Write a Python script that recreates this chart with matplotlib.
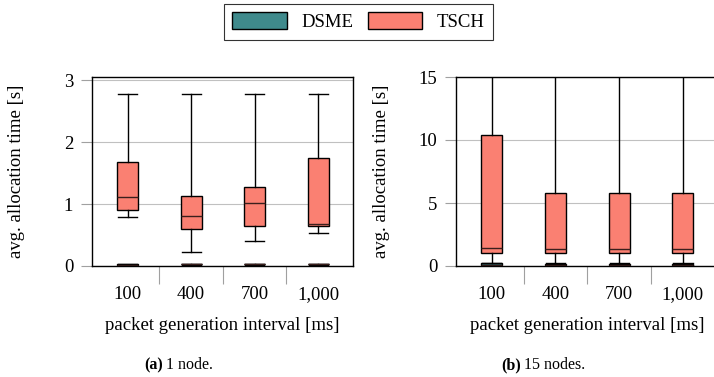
import matplotlib
matplotlib.use("Agg")
import matplotlib.pyplot as plt
from matplotlib.patches import Patch
from matplotlib.ticker import FixedLocator

plt.rcParams["font.family"] = ["Liberation Serif", "DejaVu Serif"]
plt.rcParams["font.size"] = 13.5

intervals = ["100", "400", "700", "1,000"]

# (a) 1 node -- TSCH
tsch1_low = [0.79, 0.23, 0.40, 0.54]
tsch1_q1 = [0.90, 0.60, 0.645, 0.64]
tsch1_med = [1.11, 0.80, 1.01, 0.67]
tsch1_q3 = [1.68, 1.13, 1.27, 1.75]
tsch1_high = [2.77, 2.77, 2.77, 2.77]

# (a) 1 node -- DSME
dsme1_low = [0.010, 0.020, 0.020, 0.020]
dsme1_q1 = [0.015, 0.025, 0.025, 0.025]
dsme1_med = [0.020, 0.028, 0.028, 0.028]
dsme1_q3 = [0.025, 0.032, 0.032, 0.032]
dsme1_high = [0.030, 0.035, 0.035, 0.035]

# (b) 15 nodes -- TSCH
tsch15_low = [0.10, 0.10, 0.10, 0.10]
tsch15_q1 = [1.06, 1.03, 1.03, 1.00]
tsch15_med = [1.45, 1.37, 1.35, 1.32]
tsch15_q3 = [10.37, 5.77, 5.77, 5.77]
tsch15_high = [18.0, 18.0, 18.0, 18.0]

# (b) 15 nodes -- DSME
dsme15_low = [0.03, 0.03, 0.03, 0.03]
dsme15_q1 = [0.05, 0.05, 0.05, 0.05]
dsme15_med = [0.10, 0.10, 0.10, 0.10]
dsme15_q3 = [0.20, 0.18, 0.18, 0.18]
dsme15_high = [0.25, 0.22, 0.22, 0.22]

dsme_color = "#3f8a8c"
tsch_color = "#fa8072"


def make_stats(low, q1, med, q3, high):
    return [dict(whislo=a, q1=b, med=c, q3=d, whishi=e, fliers=[])
            for a, b, c, d, e in zip(low, q1, med, q3, high)]


def draw_boxes(ax, stats, color):
    pos = list(range(1, len(stats) + 1))
    ax.bxp(stats, positions=pos, widths=0.33, capwidths=0.30,
           showfliers=False, patch_artist=True,
           boxprops=dict(facecolor=color, edgecolor="black", linewidth=1.0),
           medianprops=dict(color="#3a1f1c", linewidth=1.0),
           whiskerprops=dict(color="black", linewidth=1.0),
           capprops=dict(color="black", linewidth=1.0))


def style_axis(ax, ylim, yticks, ylab_x):
    ax.set_xlim(0.44, 4.55)
    ax.set_ylim(*ylim)
    ax.set_yticks(yticks)
    ax.yaxis.grid(True, color="#c0c0c0", linewidth=0.8)
    ax.set_axisbelow(True)
    ax.tick_params(axis="y", length=8, color="#a0a0a0", width=0.8, pad=5.5)
    ax.set_xticks(range(1, 5))
    ax.set_xticklabels(intervals)
    ax.tick_params(axis="x", which="major", length=0, pad=14.5)
    ax.xaxis.set_minor_locator(FixedLocator([1.5, 2.5, 3.5]))
    ax.tick_params(axis="x", which="minor", length=13, color="#a0a0a0", width=0.8)
    for s in ax.spines.values():
        s.set_linewidth(1.0)
    ax.set_xlabel("packet generation interval [ms]", labelpad=10)
    ax.set_ylabel("avg. allocation time [s]")
    ax.yaxis.set_label_coords(ylab_x, 0.5)


fig = plt.figure(figsize=(7.14, 3.77), dpi=100)
ax1 = fig.add_axes([92 / 714, 111 / 377, 261 / 714, 189 / 377])
ax2 = fig.add_axes([456 / 714, 111 / 377, 262 / 714, 189 / 377])

draw_boxes(ax1, make_stats(tsch1_low, tsch1_q1, tsch1_med, tsch1_q3, tsch1_high), tsch_color)
draw_boxes(ax1, make_stats(dsme1_low, dsme1_q1, dsme1_med, dsme1_q3, dsme1_high), dsme_color)
style_axis(ax1, (0, 3.05), [0, 1, 2, 3], -0.255)

draw_boxes(ax2, make_stats(tsch15_low, tsch15_q1, tsch15_med, tsch15_q3, tsch15_high), tsch_color)
draw_boxes(ax2, make_stats(dsme15_low, dsme15_q1, dsme15_med, dsme15_q3, dsme15_high), dsme_color)
style_axis(ax2, (0, 15), [0, 5, 10, 15], -0.25)

handles = [Patch(facecolor=dsme_color, edgecolor="black", linewidth=1.0, label="DSME"),
           Patch(facecolor=tsch_color, edgecolor="black", linewidth=1.0, label="TSCH")]
leg = fig.legend(handles=handles, loc="upper center", bbox_to_anchor=(0.502, 1 - 4 / 377),
                 ncol=2, frameon=True, fancybox=False, edgecolor="black",
                 handlelength=2.93, handleheight=1.0, columnspacing=0.75,
                 handletextpad=0.75, borderpad=0.45, borderaxespad=0, fontsize=13.5)
leg.get_frame().set_linewidth(0.8)

fig.text(163 / 714, 1 - 365 / 377, "(a)", fontsize=11.5, fontweight="bold",
         ha="right", va="center")
fig.text(166 / 714, 1 - 365 / 377, "1 node.", fontsize=11.5, ha="left", va="center")
fig.text(521 / 714, 1 - 365 / 377, "(b)", fontsize=11.5, fontweight="bold",
         ha="right", va="center")
fig.text(524 / 714, 1 - 365 / 377, "15 nodes.", fontsize=11.5, ha="left", va="center")

fig.savefig("out.png", dpi=100)
